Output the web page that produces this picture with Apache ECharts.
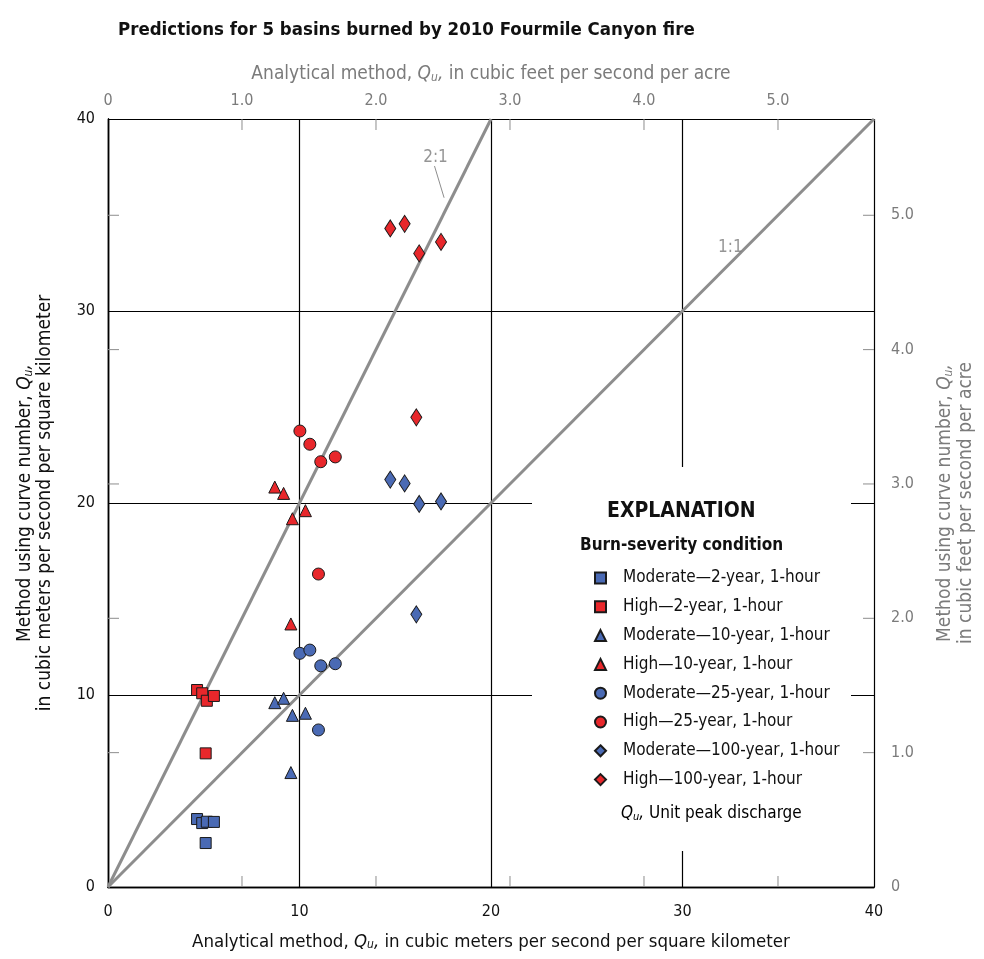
<!DOCTYPE html>
<html>
<head>
<meta charset="utf-8">
<script src="https://cdn.jsdelivr.net/npm/echarts@6/dist/echarts.min.js"></script>
<style>
  html, body { margin: 0; padding: 0; background: #fff; }
  #chart { width: 984px; height: 959px; }
</style>
</head>
<body>
<div id="chart"></div>
<script>
// Unit conversion: 1 m3/s/km2 expressed in ft3/s per acre
const CFS_PER_ACRE = 35.3147 / 247.105;

// Analytical-method unit peak discharge (m3/s/km2) for the 5 basins, by storm
const x2yr   = [4.65, 4.92, 5.16, 5.53, 5.10];
const x10yr  = [8.71, 9.17, 9.63, 10.31, 9.55];
const x25yr  = [10.02, 10.54, 11.11, 11.87, 10.99];
const x100yr = [14.74, 15.49, 16.25, 17.39, 16.10];

// Curve-number method unit peak discharge (m3/s/km2)
const modY2   = [3.54, 3.33, 3.40, 3.39, 2.29];
const highY2  = [10.26, 10.09, 9.70, 9.95, 6.96];
const modY10  = [9.60, 9.83, 8.94, 9.05, 5.96];
const highY10 = [20.83, 20.50, 19.18, 19.60, 13.70];
const modY25  = [12.17, 12.34, 11.52, 11.63, 8.18];
const highY25 = [23.75, 23.06, 22.15, 22.40, 16.30];
const modY100  = [21.22, 21.02, 19.95, 20.08, 14.20];
const highY100 = [34.30, 34.54, 33.00, 33.60, 24.46];

// Reference ratio lines (curve number : analytical)
const line21 = [[0, 0], [20, 40]];
const line11 = [[0, 0], [40, 40]];

// Tick values
const cfsLabelTicks = [0, 1, 2, 3, 4, 5];
const cfsMinorTicks = [1, 2, 3, 4, 5];
// the same cfs/acre ticks expressed on the metric scale
const cfsTicksOnMetric = cfsMinorTicks.map(v => v / CFS_PER_ACRE);

const BLUE = '#4a6ab4';
const RED = '#e8272b';
const GREY = '#8d8d8d';
const GREY_TEXT = '#7b7b7b';
const FONT = "'Liberation Sans Narrow', 'DejaVu Sans Condensed', 'Roboto', sans-serif";

const zip = (xs, ys) => xs.map((x, i) => [x, ys[i]]);

const markerSeries = [
  { name: 'Moderate—2-year, 1-hour',   xs: x2yr,   ys: modY2,   color: BLUE, symbol: 'rect',     size: 11 },
  { name: 'High—2-year, 1-hour',       xs: x2yr,   ys: highY2,  color: RED,  symbol: 'rect',     size: 11 },
  { name: 'Moderate—10-year, 1-hour',  xs: x10yr,  ys: modY10,  color: BLUE, symbol: 'triangle', size: 12 },
  { name: 'High—10-year, 1-hour',      xs: x10yr,  ys: highY10, color: RED,  symbol: 'triangle', size: 12 },
  { name: 'Moderate—25-year, 1-hour',  xs: x25yr,  ys: modY25,  color: BLUE, symbol: 'circle',   size: 12 },
  { name: 'High—25-year, 1-hour',      xs: x25yr,  ys: highY25, color: RED,  symbol: 'circle',   size: 12 },
  { name: 'Moderate—100-year, 1-hour', xs: x100yr, ys: modY100, color: BLUE, symbol: 'diamond',  size: [11, 17] },
  { name: 'High—100-year, 1-hour',     xs: x100yr, ys: highY100, color: RED, symbol: 'diamond',  size: [11, 17] }
];

// Rich-text styles for the Q-sub-u titles
function qRich(color, size, lh) {
  const lineHeight = lh || size + 3;
  return {
    t: { color: color, fontSize: size, fontFamily: FONT, lineHeight: lineHeight },
    q: { color: color, fontSize: size, fontFamily: FONT, fontStyle: 'italic', lineHeight: lineHeight },
    s: { color: color, fontSize: Math.round(size * 0.65), fontFamily: FONT, fontStyle: 'italic', padding: [7, 0, 0, 0], lineHeight: lineHeight }
  };
}

const NAME_SIZE = 19;
const TICK_SIZE = 16;
const TICK_LEN = 11;
const GRID = { left: 108, top: 119, width: 768, height: 768 };

const chart = echarts.init(document.getElementById('chart'), null, { renderer: 'canvas' });

const fmtCfs = v => (v === 0 ? '0' : v.toFixed(1));

// Short grey inward ticks marking the ft3/s per acre scale on all four sides
function renderCfsTicks(params, api) {
  const v = api.value(0);
  const b = api.coord([v, 0]);
  const t = api.coord([v, 40]);
  const l = api.coord([0, v]);
  const r = api.coord([40, v]);
  const style = { stroke: GREY, lineWidth: 1 };
  return {
    type: 'group',
    children: [
      { type: 'line', shape: { x1: b[0], y1: b[1], x2: b[0], y2: b[1] - TICK_LEN }, style: style },
      { type: 'line', shape: { x1: t[0], y1: t[1], x2: t[0], y2: t[1] + TICK_LEN }, style: style },
      { type: 'line', shape: { x1: l[0], y1: l[1], x2: l[0] + TICK_LEN, y2: l[1] }, style: style },
      { type: 'line', shape: { x1: r[0], y1: r[1], x2: r[0] - TICK_LEN, y2: r[1] }, style: style }
    ]
  };
}

const option = {
  backgroundColor: '#fff',
  animation: false,
  title: {
    text: 'Predictions for 5 basins burned by 2010 Fourmile Canyon fire',
    left: 113, top: 16,
    textStyle: { fontFamily: FONT, fontWeight: 'bold', fontSize: 18.5, color: '#111' }
  },
  grid: GRID,
  xAxis: [
    {
      type: 'value', position: 'bottom', min: 0, max: 40, interval: 10,
      axisLine: { show: true, lineStyle: { color: '#000', width: 1.4 } },
      axisTick: { show: false },
      axisLabel: { color: '#111', fontSize: TICK_SIZE, fontFamily: FONT, margin: 17 },
      splitLine: { show: true, lineStyle: { color: '#000', width: 1.2 } },
      name: '{t|Analytical method, }{q|Q}{s|u}{q|,}{t| in cubic meters per second per square kilometer}',
      nameLocation: 'middle', nameGap: 44,
      nameTextStyle: { rich: qRich('#111', 18.5) }
    },
    {
      type: 'value', position: 'top', min: 0, max: 40 * CFS_PER_ACRE,
      axisLine: { show: true, lineStyle: { color: '#000', width: 1.4 } },
      axisTick: { show: false },
      axisLabel: { customValues: cfsLabelTicks, formatter: fmtCfs, color: GREY_TEXT, fontSize: TICK_SIZE, fontFamily: FONT, margin: 10 },
      splitLine: { show: false },
      name: '{t|Analytical method, }{q|Q}{s|u}{q|,}{t| in cubic feet per second per acre}',
      nameLocation: 'middle', nameGap: 34,
      nameTextStyle: { rich: qRich(GREY_TEXT, NAME_SIZE) }
    }
  ],
  yAxis: [
    {
      type: 'value', position: 'left', min: 0, max: 40, interval: 10,
      axisLine: { show: true, lineStyle: { color: '#000', width: 1.4 } },
      axisTick: { show: false },
      axisLabel: { color: '#111', fontSize: TICK_SIZE, fontFamily: FONT, margin: 13 },
      splitLine: { show: true, lineStyle: { color: '#000', width: 1.2 } },
      name: '{t|Method using curve number, }{q|Q}{s|u}{q|,}\n{t|in cubic meters per second per square kilometer}',
      nameLocation: 'middle', nameRotate: 90, nameGap: 53,
      nameTextStyle: { rich: qRich('#111', NAME_SIZE, 20), align: 'center' }
    },
    {
      type: 'value', position: 'right', min: 0, max: 40 * CFS_PER_ACRE,
      axisLine: { show: true, lineStyle: { color: '#000', width: 1.4 } },
      axisTick: { show: false },
      axisLabel: { customValues: cfsLabelTicks, formatter: fmtCfs, color: GREY_TEXT, fontSize: TICK_SIZE, fontFamily: FONT, margin: 17 },
      splitLine: { show: false },
      name: '{t|Method using curve number, }{q|Q}{s|u}{q|,}\n{t|in cubic feet per second per acre}',
      nameLocation: 'middle', nameRotate: 90, nameGap: 61,
      nameTextStyle: { rich: qRich(GREY_TEXT, NAME_SIZE, 21), align: 'center' }
    }
  ],
  legend: {
    orient: 'vertical',
    left: 589, top: 564,
    itemWidth: 11, itemHeight: 11,
    itemGap: 10.8,
    selectedMode: false,
    data: markerSeries.map(s => s.name),
    textStyle: { fontFamily: FONT, fontSize: 17, color: '#111', lineHeight: 18, padding: [0, 0, 0, 12] }
  },
  graphic: [
    // clears the grid lines behind the explanation block
    { type: 'rect', z: 1, shape: { x: 532, y: 467, width: 319, height: 384 }, style: { fill: '#fff' }, silent: true },
    { type: 'text', z: 3, left: 607, top: 501, style: { text: 'EXPLANATION', fontFamily: FONT, fontWeight: 'bold', fontSize: 21, fill: '#111' } },
    { type: 'text', z: 3, left: 580, top: 537, style: { text: 'Burn-severity condition', fontFamily: FONT, fontWeight: 'bold', fontSize: 17, fill: '#111' } },
    { type: 'text', z: 3, left: 621, top: 805, style: {
        text: '{q|Q}{s|u}{q|,}{t| Unit peak discharge}',
        rich: qRich('#111', 17)
      } }
  ],
  series: [
    {
      name: 'cfs-ticks', type: 'custom', silent: true, z: 1.5,
      xAxisIndex: 0, yAxisIndex: 0,
      data: cfsTicksOnMetric.map(v => [v, 0]),
      renderItem: renderCfsTicks,
      clip: false
    },
    {
      name: 'ratio-2to1', type: 'line', data: line21, xAxisIndex: 0, yAxisIndex: 0,
      showSymbol: false, symbol: 'none', silent: true, z: 2,
      lineStyle: { color: GREY, width: 3 }
    },
    {
      name: 'ratio-1to1', type: 'line', data: line11, xAxisIndex: 0, yAxisIndex: 0,
      showSymbol: false, symbol: 'none', silent: true, z: 2,
      lineStyle: { color: GREY, width: 3 }
    },
    {
      name: 'label-2to1', type: 'line', data: [[17.05, 37.55], [17.55, 35.9]],
      showSymbol: false, symbol: 'none', silent: true, z: 2,
      lineStyle: { color: GREY, width: 1 }
    },
    {
      name: 'label-1to1', type: 'line', data: [[32.6, 32.55], [33.45, 33.45]],
      showSymbol: false, symbol: 'none', silent: true, z: 2,
      lineStyle: { color: GREY, width: 1 }
    },
    {
      name: 'ratio-labels', type: 'scatter', silent: true, symbolSize: 0, z: 3,
      data: [
        { value: [17.1, 38.0], label: { formatter: '2:1' } },
        { value: [32.5, 33.3], label: { formatter: '1:1' } }
      ],
      label: { show: true, position: 'inside', color: GREY_TEXT, fontSize: 17, fontFamily: FONT }
    }
  ].concat(markerSeries.map(s => ({
    name: s.name,
    type: 'scatter',
    xAxisIndex: 0, yAxisIndex: 0,
    z: 4,
    symbol: s.symbol,
    symbolSize: s.size,
    data: zip(s.xs, s.ys),
    itemStyle: { color: s.color, borderColor: '#1a1a1a', borderWidth: 1, opacity: 1 }
  })))
};

chart.setOption(option);
</script>
</body>
</html>
